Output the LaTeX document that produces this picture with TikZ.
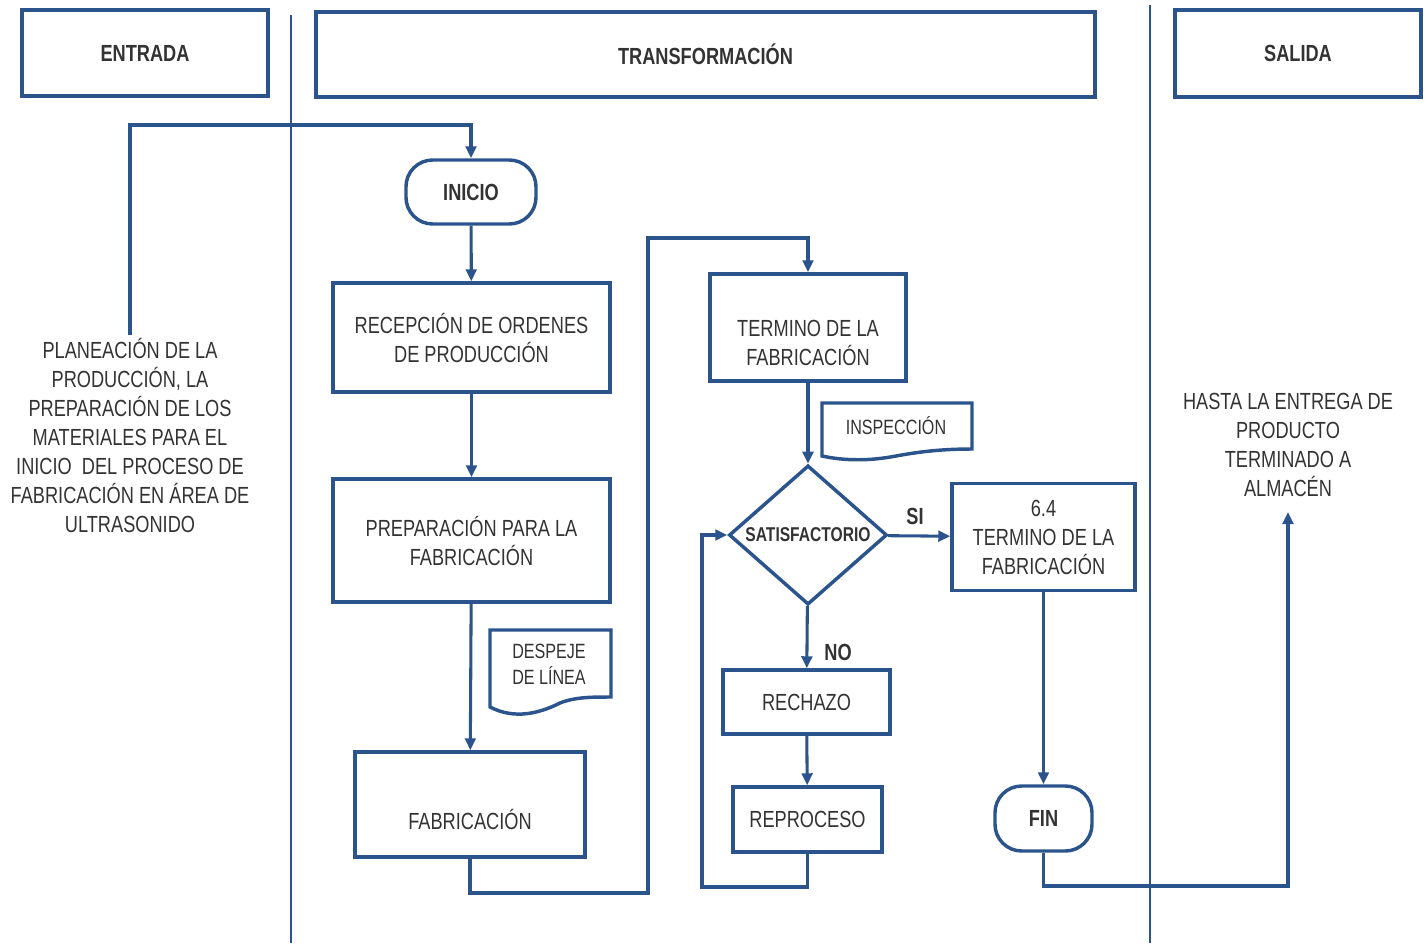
\documentclass[tikz,border=0pt]{standalone}
\usepackage{fontspec}
\setmainfont{Liberation Sans}[FakeStretch=0.78]
\usetikzlibrary{arrows.meta,shapes.geometric}

\definecolor{flowblue}{RGB}{43,84,140}
\definecolor{flowtext}{RGB}{51,51,51}

\tikzset{every picture/.style={line width=0.75pt}}
\tikzset{
  procbox/.style={draw=flowblue, line width=2.6pt, rectangle, align=center, text=flowtext, font=\fontsize{17.5}{21.75}\selectfont},
  headbox/.style={procbox, font=\fontsize{17.5}{21.75}\selectfont\bfseries},
  termbox/.style={procbox, rounded corners=20pt, font=\fontsize{17.5}{21.75}\selectfont\bfseries},
  decision/.style={draw=flowblue, line width=2.6pt, diamond, inner sep=0pt, text=flowtext, font=\fontsize{15}{17}\selectfont\bfseries},
  docshape/.style={draw=flowblue, line width=2.6pt},
  flowline/.style={draw=flowblue, line width=2.3pt},
  flowarrow/.style={flowline, -{Triangle[length=9pt,width=8pt]}},
  lane/.style={draw=flowblue, line width=2.1pt},
  boxtext/.style={text=flowtext, align=center, font=\fontsize{17.5}{21.75}\selectfont},
  doctext/.style={text=flowtext, align=center, font=\fontsize{15.5}{19.5}\selectfont},
  freetext/.style={text=flowtext, align=center, font=\fontsize{17.5}{21.75}\selectfont},
  labeltext/.style={text=flowtext, font=\fontsize{17.5}{21}\selectfont\bfseries}
}

\begin{document}
\begin{tikzpicture}[x=0.75pt,y=0.75pt,yscale=-1,xscale=1]
\useasboundingbox (0,0) rectangle (1427,943);

%Straight Lines: lanes
\draw [lane] (291,15) -- (291,943) ;
\draw [lane] (1150,5) -- (1150,943) ;

%Shape: Rectangle headers
\node [headbox, minimum width=184.5pt, minimum height=64.5pt] (entrada) at (145,53) {ENTRADA};
\node [headbox, minimum width=584.25pt, minimum height=63.75pt] (transf) at (705.5,54.5) {TRANSFORMACIÓN};
\node [headbox, minimum width=184.5pt, minimum height=65.25pt] (salida) at (1298,53.5) {SALIDA};

% Text Node
\node [freetext, anchor=north, inner sep=2pt] (plan) at (130,335) {PLANEACIÓN DE LA\\PRODUCCIÓN, LA\\PREPARACIÓN DE LOS\\MATERIALES PARA EL\\INICIO\ \ DEL PROCESO DE\\FABRICACIÓN EN ÁREA DE\\ULTRASONIDO};
% Text Node
\node [freetext, anchor=south, inner sep=11pt] (hasta) at (1288,512) {HASTA LA ENTREGA DE\\PRODUCTO\\TERMINADO A\\ALMACÉN};

%Shape: Terminals
\node [termbox, minimum width=97.5pt, minimum height=48pt] (inicio) at (471,192) {INICIO};
\node [termbox, minimum width=72.75pt, minimum height=48.75pt] (fin) at (1043.5,818.5) {FIN};

%Shape: Rectangle processes
\node [procbox, minimum width=207.75pt, minimum height=81.75pt] (recepcion) at (471.5,337.5) {RECEPCIÓN DE ORDENES\\DE PRODUCCIÓN};
\node [procbox, minimum width=207.75pt, minimum height=92.25pt] (preparacion) at (471.5,540.5) {PREPARACIÓN PARA LA\\FABRICACIÓN};
\node [procbox, minimum width=172.5pt, minimum height=0pt, inner sep=0pt, text height=57.75pt, text depth=21pt] (fabricacion) at (470,804.5) {FABRICACIÓN};
\node [procbox, minimum width=147pt, minimum height=80.25pt] (termino) at (808,327.5) {};
\node [boxtext] (terminotxt) at ([yshift=11.25pt]termino.center) {TERMINO DE LA\\FABRICACIÓN};
\node [procbox, minimum width=137.25pt, minimum height=80.25pt] (termfinal) at (1043.5,537) {6.4\\TERMINO DE LA\\FABRICACIÓN};
\node [procbox, minimum width=125.25pt, minimum height=48pt] (rechazo) at (806.5,702) {RECHAZO};
\node [procbox, minimum width=111.75pt, minimum height=48.75pt] (reproceso) at (807.5,819.5) {REPROCESO};

%Shape: Diamond
\node [decision, minimum width=118.5pt, minimum height=103.5pt] (satis) at (808,535) {SATISFACTORIO};

%Shape: Documents
\draw [docshape] (490,630) -- (611,630) -- (611,697) .. controls (592,697) and (575,697) .. (560,703) .. controls (540,713) and (515,720) .. (490,707) -- cycle ;
\node [doctext] (despeje) at (549,664) {DESPEJE\\DE LÍNEA};
\draw [docshape] (822,403) -- (972,403) -- (972,449) .. controls (940,449) and (918,452) .. (896,456) .. controls (870,461) and (845,461) .. (822,456) -- cycle ;
\node [doctext] (inspeccion) at (896,426) {INSPECCIÓN};

%Straight Lines: connectors
\coordinate (entturn) at (471,125);
\draw [flowarrow] (plan.north) |- (entturn) -- (inicio.north) ;
\draw [flowarrow] (inicio) -- (recepcion) ;
\draw [flowarrow] (recepcion) -- (preparacion) ;
\draw [flowarrow] (preparacion) -- (fabricacion) ;
\coordinate (fabturn) at (648,893);
\coordinate (termup) at (808,238);
\draw [flowarrow] (fabricacion.south) |- (fabturn) |- (termup) -- (termino.north) ;
\draw [flowarrow] (termino) -- (satis) ;
\draw [flowarrow] (satis) -- (termfinal) ;
\draw [flowarrow] (satis) -- (rechazo) ;
\draw [flowarrow] (rechazo) -- (reproceso) ;
\coordinate (loopturn) at (702,887);
\draw [flowarrow] (reproceso.south) |- (loopturn) |- (satis.west) ;
\draw [flowarrow] (termfinal) -- (fin) ;
\coordinate (finturn) at (1288,886);
\draw [flowarrow] (fin.south) |- (finturn) -- (hasta.south) ;

% Text Node
\node [labeltext] (si) at (915,516) {SI};
% Text Node
\node [labeltext] (no) at (838,652) {NO};

\end{tikzpicture}
\end{document}
